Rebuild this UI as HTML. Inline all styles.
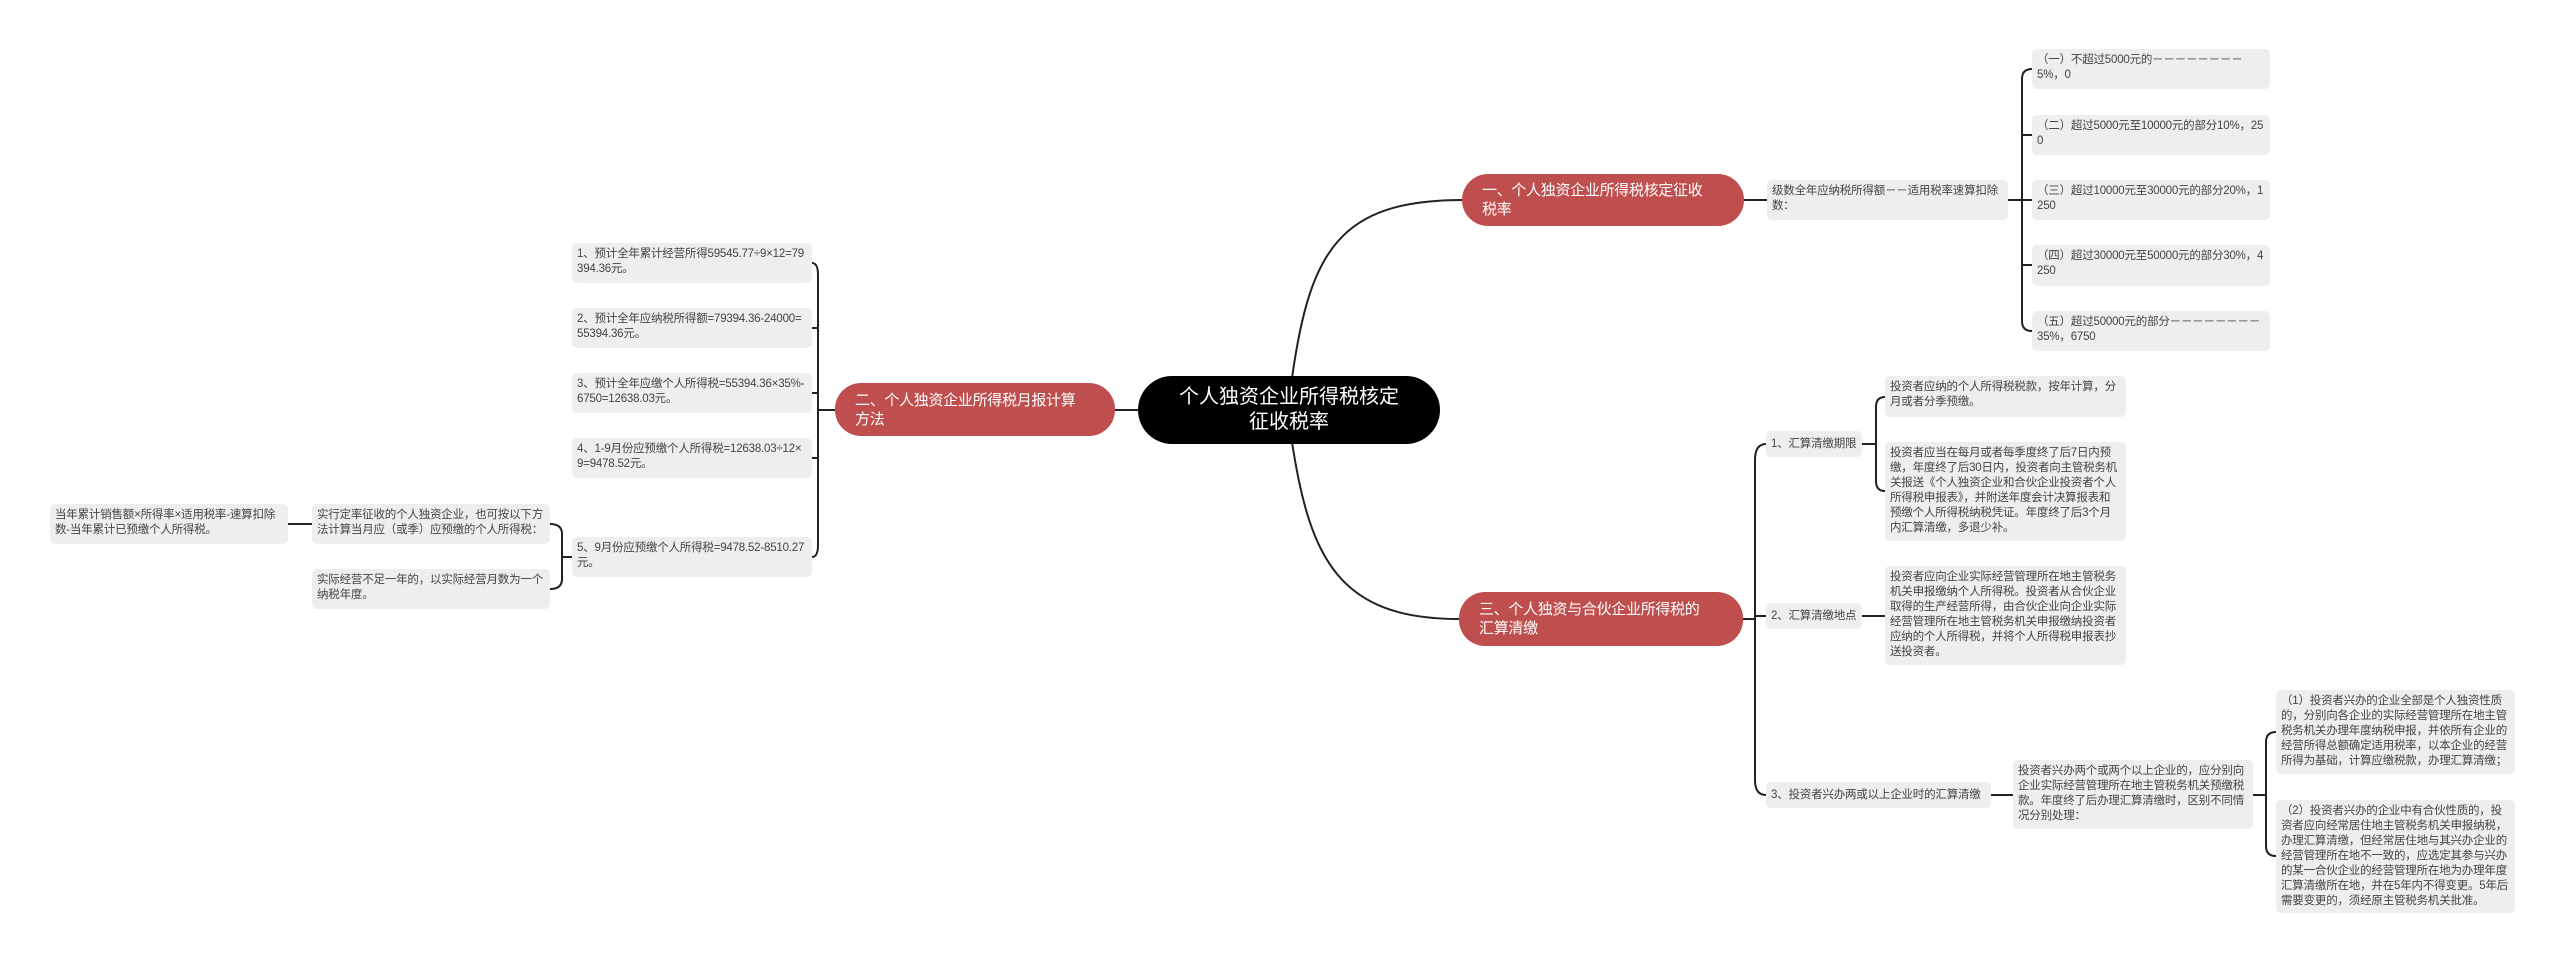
<!DOCTYPE html>
<html><head><meta charset="utf-8"><style>
body{margin:0;width:2560px;height:963px;background:#fff;position:relative;overflow:hidden;font-family:"Liberation Sans","Noto Sans CJK SC",sans-serif}
.b{position:absolute;box-sizing:border-box;background:#eeeeee;border-radius:5px;color:#444;font-size:11.5px;line-height:15px;padding:4px 5px;word-break:break-all;letter-spacing:-0.2px}
.n{white-space:nowrap;padding-top:6px}
.r{position:absolute;box-sizing:border-box;background:#bf4f4e;border-radius:26px;color:#fff;font-size:15px;line-height:19px;padding:6px 14px 6px 20px;display:flex;align-items:center;letter-spacing:-0.3px}
.c{position:absolute;box-sizing:border-box;background:#000;border-radius:34px;color:#fff;font-size:20px;line-height:25px;text-align:center;display:flex;align-items:center;justify-content:center;padding:0 24px}
svg{position:absolute;left:0;top:0}
</style></head><body>
<svg width="2560" height="963" fill="none" stroke="#222" stroke-width="2">
<path d="M1292 378 C1310 250 1340 200 1463 200"/>
<path d="M1292 442 C1310 560 1340 619 1459 619"/>
<path d="M1138 410 L1115 410"/>
<path d="M1744 200 L1767 200"/>
<path d="M2008 200 L2022 200"/>
<path d="M2032 69 Q2022 69 2022 79 L2022 321 Q2022 331 2032 331"/>
<path d="M2022 135 L2032 135 M2022 200 L2032 200 M2022 265 L2032 265"/>
<path d="M1743 619 L1755 619"/>
<path d="M1766 444 Q1755 444 1755 460 L1755 780 Q1755 795 1766 795"/>
<path d="M1755 616 L1766 616"/>
<path d="M1862 444 L1876 444"/>
<path d="M1885 397 Q1876 397 1876 407 L1876 481 Q1876 491 1885 491"/>
<path d="M1862 616 L1885 616"/>
<path d="M1991 795 L2013 795"/>
<path d="M2253 795 L2266 795"/>
<path d="M2276 732 Q2266 732 2266 742 L2266 846 Q2266 856 2276 856"/>
<path d="M835 410 L818 410"/>
<path d="M812 263 Q818 263 818 275 L818 545 Q818 557 812 557"/>
<path d="M812 328 L818 328 M812 393 L818 393 M812 458 L818 458"/>
<path d="M572 557 L562 557"/>
<path d="M550 524 Q562 524 562 534 L562 579 Q562 589 550 589"/>
<path d="M312 524 L288 524"/>
</svg>
<div class="c" style="left:1138px;top:376px;width:302px;height:68px">个人独资企业所得税核定<br>征收税率</div>
<div class="r" style="left:1462px;top:174px;width:282px;height:52px">一、个人独资企业所得税核定征收<br>税率</div>
<div class="r" style="left:835px;top:383px;width:280px;height:53px">二、个人独资企业所得税月报计算<br>方法</div>
<div class="r" style="left:1459px;top:592px;width:284px;height:54px">三、个人独资与合伙企业所得税的<br>汇算清缴</div>
<div class="b" style="left:1767px;top:180px;width:241px;height:40px">级数全年应纳税所得额－－适用税率速算扣除数：</div>
<div class="b" style="left:2032px;top:49px;width:238px;height:40px">（一）不超过5000元的－－－－－－－－5%，0</div>
<div class="b" style="left:2032px;top:115px;width:238px;height:40px">（二）超过5000元至10000元的部分10%，250</div>
<div class="b" style="left:2032px;top:180px;width:238px;height:40px">（三）超过10000元至30000元的部分20%，1250</div>
<div class="b" style="left:2032px;top:245px;width:238px;height:41px">（四）超过30000元至50000元的部分30%，4250</div>
<div class="b" style="left:2032px;top:311px;width:238px;height:40px">（五）超过50000元的部分－－－－－－－－35%，6750</div>
<div class="b n" style="left:1766px;top:431px;width:96px;height:26px">1、汇算清缴期限</div>
<div class="b" style="left:1885px;top:376px;width:241px;height:41px">投资者应纳的个人所得税税款，按年计算，分月或者分季预缴。</div>
<div class="b" style="left:1885px;top:442px;width:241px;height:99px">投资者应当在每月或者每季度终了后7日内预缴，年度终了后30日内，投资者向主管税务机关报送《个人独资企业和合伙企业投资者个人所得税申报表》，并附送年度会计决算报表和预缴个人所得税纳税凭证。年度终了后3个月内汇算清缴，多退少补。</div>
<div class="b n" style="left:1766px;top:603px;width:96px;height:26px">2、汇算清缴地点</div>
<div class="b" style="left:1885px;top:566px;width:241px;height:99px">投资者应向企业实际经营管理所在地主管税务机关申报缴纳个人所得税。投资者从合伙企业取得的生产经营所得，由合伙企业向企业实际经营管理所在地主管税务机关申报缴纳投资者应纳的个人所得税，并将个人所得税申报表抄送投资者。</div>
<div class="b n" style="left:1766px;top:782px;width:225px;height:26px">3、投资者兴办两或以上企业时的汇算清缴</div>
<div class="b" style="left:2013px;top:760px;width:240px;height:69px">投资者兴办两个或两个以上企业的，应分别向企业实际经营管理所在地主管税务机关预缴税款。年度终了后办理汇算清缴时，区别不同情况分别处理：</div>
<div class="b" style="left:2276px;top:690px;width:239px;height:84px">（1）投资者兴办的企业全部是个人独资性质的，分别向各企业的实际经营管理所在地主管税务机关办理年度纳税申报，并依所有企业的经营所得总额确定适用税率，以本企业的经营所得为基础，计算应缴税款，办理汇算清缴；</div>
<div class="b" style="left:2276px;top:800px;width:239px;height:113px">（2）投资者兴办的企业中有合伙性质的，投资者应向经常居住地主管税务机关申报纳税，办理汇算清缴，但经常居住地与其兴办企业的经营管理所在地不一致的，应选定其参与兴办的某一合伙企业的经营管理所在地为办理年度汇算清缴所在地，并在5年内不得变更。5年后需要变更的，须经原主管税务机关批准。</div>
<div class="b" style="left:572px;top:243px;width:240px;height:40px">1、预计全年累计经营所得59545.77÷9×12=79394.36元。</div>
<div class="b" style="left:572px;top:308px;width:240px;height:40px">2、预计全年应纳税所得额=79394.36-24000=55394.36元。</div>
<div class="b" style="left:572px;top:373px;width:240px;height:40px">3、预计全年应缴个人所得税=55394.36×35%-6750=12638.03元。</div>
<div class="b" style="left:572px;top:438px;width:240px;height:40px">4、1-9月份应预缴个人所得税=12638.03÷12×9=9478.52元。</div>
<div class="b" style="left:572px;top:537px;width:240px;height:40px">5、9月份应预缴个人所得税=9478.52-8510.27元。</div>
<div class="b" style="left:312px;top:504px;width:238px;height:40px">实行定率征收的个人独资企业，也可按以下方法计算当月应（或季）应预缴的个人所得税：</div>
<div class="b" style="left:312px;top:569px;width:238px;height:40px">实际经营不足一年的，以实际经营月数为一个纳税年度。</div>
<div class="b" style="left:50px;top:504px;width:238px;height:40px">当年累计销售额×所得率×适用税率-速算扣除数-当年累计已预缴个人所得税。</div>
</body></html>
